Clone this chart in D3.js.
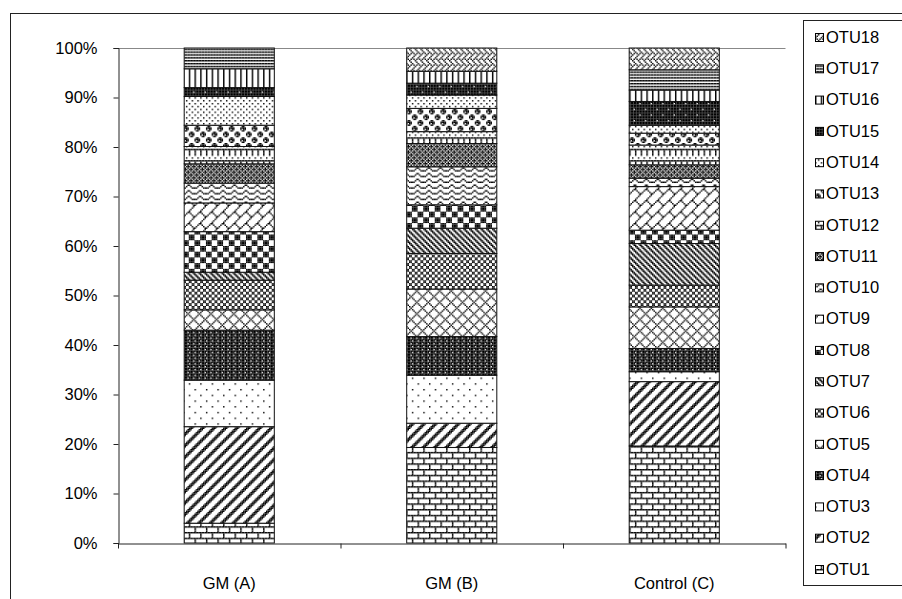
<!DOCTYPE html>
<html>
<head>
<meta charset="utf-8">
<script src="https://cdn.jsdelivr.net/npm/d3@7/dist/d3.min.js"></script>
<style>
  html, body { margin: 0; padding: 0; background: #fff; }
  svg { display: block; font-family: "Liberation Sans", Arial, sans-serif; }
</style>
</head>
<body>
<svg id="chart" width="902" height="599"></svg>
<script>
// ---------------- DATA ----------------
const categories = ["GM (A)", "GM (B)", "Control (C)"];
const otus = ["OTU1","OTU2","OTU3","OTU4","OTU5","OTU6","OTU7","OTU8","OTU9",
              "OTU10","OTU11","OTU12","OTU13","OTU14","OTU15","OTU16","OTU17","OTU18"];
const valuesA = [4.0, 19.5, 9.4, 10.1, 4.1, 6.0, 1.6, 8.2, 5.8, 4.0, 3.9, 3.5, 4.3, 5.8, 1.8, 3.8, 4.2, 0.0];
const valuesB = [19.3, 4.9, 9.7, 7.8, 9.6, 7.2, 5.1, 4.7, 0.0, 7.7, 4.7, 2.4, 4.7, 2.7, 2.4, 2.4, 0.0, 4.7];
const valuesC = [19.6, 13.0, 2.0, 4.7, 8.4, 4.4, 8.4, 2.7, 8.8, 1.7, 2.7, 4.0, 2.4, 1.6, 4.8, 2.3, 4.1, 4.4];
const yTicks = [0, 10, 20, 30, 40, 50, 60, 70, 80, 90, 100];

// ---------------- PATTERN BITMAPS (style) ----------------
const bitmaps = {
  OTU1:  ["XXXXXXXX","X.......","X.......","X.......","XXXXXXXX","....X...","....X...","....X..."],
  OTU2:  ["XX.....X","X.....XX",".....XXX","....XXX.","...XXX..","..XXX...",".XXX....","XXX....."],
  OTU3:  ["X.......","........","........","........","....X...","........","........","........"],
  OTU4:  ["XXX.XXX.","XXXXXXXX",".XXX.XXX","XXXXXXXX"],
  OTU5:  ["X.....X.",".X...X..","..X.X...","...X....","..X.X...",".X...X..","X.....X.",".......X"],
  OTU6:  ["XX..XX..","XX..XX..","..XX..XX","..XX..XX"],
  OTU7:  ["XX..XX..",".XX..XX.","..XX..XX","X..XX..X"],
  OTU8:  ["XXXX....","XXXX....","XXXX....","XXXX....","....XXXX","....XXXX","....XXXX","....XXXX"],
  OTU9:  [".......X","......X.",".....X..","....X...","...XX...","..X..X..",".X....X.","X......X"],
  OTU10: ["........","...XX...","..X..X..","XX....XX"],
  OTU11: ["X.XXX.XX",".X.X.X.X","XXX.XXX.",".X.X.X.X"],
  OTU12: ["XXXXXXXX","X...X...","X...X...","X...X...","X...X...","........","..X...X.","........"],
  OTU13: [".XX.....","XXXX....","X.XX....",".XX.....",".....XX.","....XXXX","....X.XX",".....XX."],
  OTU14: ["X...X...","........","..X...X.","........"],
  OTU15: ["XXXXXXX.","XXXXXXXX","XXXXXXXX","XXXXXXXX","XXX.XXXX","XXXXXXXX","XXXXXXXX","XXXXXXXX"],
  OTU16: ["X...X..."],
  OTU17: ["XXXXXXXX","........"],
  OTU18: ["X...X...",".X.X.X.X","..X...X.","...X...X","X...X...",".X.X.X.X","..X...X.",".X...X.."]
};
const px = 1.43;

const svg = d3.select("#chart");
const defs = svg.append("defs");
otus.forEach(k => {
  const bm = bitmaps[k];
  const w = bm[0].length * px, h = bm.length * px;
  const p = defs.append("pattern").attr("id", "pat-" + k)
    .attr("patternUnits", "userSpaceOnUse").attr("width", w).attr("height", h);
  p.append("rect").attr("width", w).attr("height", h).attr("fill", "#fff");
  bm.forEach((row, r) => {
    for (let c = 0; c < row.length; c++) {
      if (row[c] === "X") {
        p.append("rect").attr("x", c * px).attr("y", r * px)
          .attr("width", px).attr("height", px).attr("fill", "#000");
      }
    }
  });
});

// ---------------- FRAMES ----------------
svg.append("rect").attr("x", 10.5).attr("y", 13.5).attr("width", 1000).attr("height", 1000)
  .attr("fill", "none").attr("stroke", "#222").attr("stroke-width", 1);

// ---------------- SCALES ----------------
const x = d3.scaleBand().domain(categories).range([118, 785.5]).paddingInner(0.595).paddingOuter(0.2975);
const y = d3.scaleLinear().domain([0, 100]).range([543, 48]);

// table for the stack
const series = { "GM (A)": valuesA, "GM (B)": valuesB, "Control (C)": valuesC };
const table = categories.map(c => {
  const o = { cat: c };
  otus.forEach((k, i) => o[k] = series[c][i]);
  return o;
});
const stacked = d3.stack().keys(otus)(table);

// plot area top border
svg.append("line").attr("x1", x.range()[0]).attr("x2", x.range()[1])
  .attr("y1", y(100) + 0.5).attr("y2", y(100) + 0.5)
  .attr("stroke", "#888").attr("stroke-width", 1);

// ---------------- BARS ----------------
const g = svg.append("g");
stacked.forEach(s => {
  g.selectAll(null).data(s.filter(d => d[1] - d[0] > 0)).enter().append("rect")
    .attr("x", d => x(d.data.cat))
    .attr("y", d => y(d[1]))
    .attr("width", x.bandwidth())
    .attr("height", d => y(d[0]) - y(d[1]))
    .attr("fill", "url(#pat-" + s.key + ")")
    .attr("stroke", "#111").attr("stroke-width", 1);
});

// ---------------- AXES ----------------
const yAxis = d3.axisLeft(y).tickValues(yTicks).tickFormat(d => d + "%").tickSize(5).tickPadding(16);
const ya = svg.append("g").attr("transform", "translate(" + (x.range()[0] + 0.5) + ",0)").call(yAxis);
ya.select(".domain").attr("stroke", "#222");
ya.selectAll(".tick line").attr("stroke", "#222");
ya.selectAll(".tick text").attr("font-size", "16.5px").attr("fill", "#000")
  .attr("font-family", "Liberation Sans, Arial, sans-serif");

const xAxis = d3.axisBottom(x).tickSize(0).tickPadding(34);
const xa = svg.append("g").attr("transform", "translate(0," + (y(0) + 0.5) + ")").call(xAxis);
xa.select(".domain").attr("stroke", "#222");
xa.selectAll(".tick text").attr("font-size", "16.5px").attr("fill", "#000")
  .attr("font-family", "Liberation Sans, Arial, sans-serif");
// category boundary ticks
const bounds = d3.range(categories.length + 1).map(i => x.range()[0] + i * x.step());
xa.selectAll(".bt").data(bounds).enter().append("line")
  .attr("x1", d => d + 0.5).attr("x2", d => d + 0.5).attr("y1", 0).attr("y2", 5)
  .attr("stroke", "#222");

// ---------------- LEGEND ----------------
svg.append("rect").attr("x", 803.5).attr("y", 20.5).attr("width", 300).attr("height", 565)
  .attr("fill", "#fff").attr("stroke", "#222");
const legendOrder = otus.slice().reverse();
const ly = d3.scalePoint().domain(legendOrder).range([37, 569]);
const lg = svg.append("g").selectAll("g").data(legendOrder).enter().append("g")
  .attr("transform", d => "translate(815," + ly(d) + ")");
lg.append("rect").attr("x", 0.5).attr("y", -3.5).attr("width", 8).attr("height", 8)
  .attr("fill", d => "url(#pat-" + d + ")").attr("stroke", "#000");
lg.append("text").attr("x", 11).attr("y", 0).attr("dy", "0.35em")
  .attr("font-size", "16.5px").attr("fill", "#000").text(d => d);
</script>
</body>
</html>
